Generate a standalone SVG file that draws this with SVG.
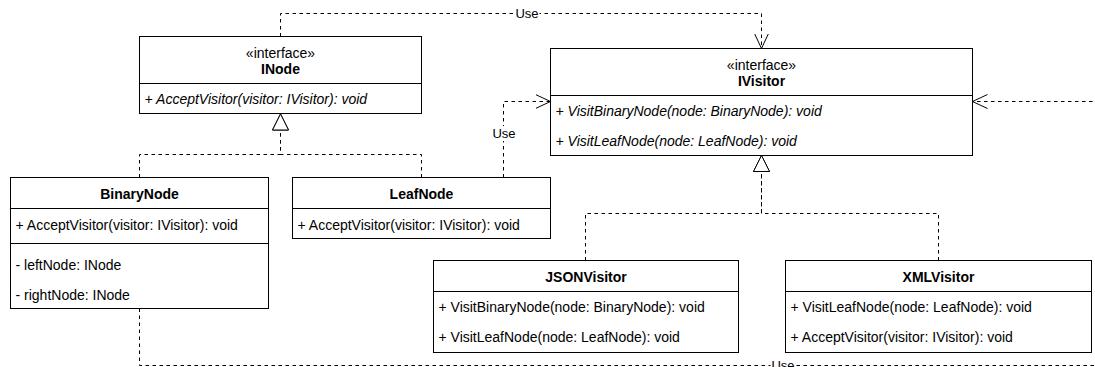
<svg xmlns="http://www.w3.org/2000/svg" width="1095" height="367" viewBox="0 0 1095 367">
  <style>
    .box { fill: #ffffff; stroke: #000000; stroke-width: 1; }
    .sep { stroke: #000000; stroke-width: 1; fill: none; }
    .t { font-family: "Liberation Sans", Arial, Helvetica, sans-serif; font-size: 14px; fill: #000000; }
    .c { text-anchor: middle; }
    .b { font-weight: bold; }
    .i { font-style: italic; }
    .edge { fill: none; stroke: #000000; stroke-width: 1; stroke-dasharray: 3.5 3.5; }
    .lbl { font-family: "Liberation Sans", Arial, Helvetica, sans-serif; font-size: 13px; fill: #000000; text-anchor: middle; }
    .lblbg { fill: #ffffff; stroke: none; }
  </style>
  <defs>
    <marker id="open" markerUnits="userSpaceOnUse" markerWidth="16" markerHeight="16" viewBox="0 0 16 16" refX="15" refY="8" orient="auto">
      <path d="M0,1 L15,8 L0,15" fill="none" stroke="#000000" stroke-width="1" stroke-dasharray="none"/>
    </marker>
    <marker id="tri" markerUnits="userSpaceOnUse" markerWidth="18" markerHeight="18" viewBox="0 0 18 18" refX="17" refY="9" orient="auto">
      <path d="M1,1 L17,9 L1,17 Z" fill="#ffffff" stroke="#000000" stroke-width="1" stroke-dasharray="none"/>
    </marker>
  </defs>

  <!-- connectors -->
  <g id="connectors">
    <!-- realization: classes to INode -->
    <path class="edge" d="M139.5,177.5 V154.5 H280.5 V114" marker-end="url(#tri)"/>
    <path class="edge" d="M421.5,177.5 V154.5 H280.5 V114" marker-end="url(#tri)"/>
    <!-- realization: visitors to IVisitor -->
    <path class="edge" d="M585.5,260.5 V213.5 H761.5 V155.5" marker-end="url(#tri)"/>
    <path class="edge" d="M938.5,260.5 V213.5 H761.5 V155.5" marker-end="url(#tri)"/>
    <!-- dependencies -->
    <path class="edge" d="M280.5,36.5 V13.5 H761.5 V48.5" marker-end="url(#open)"/>
    <path class="edge" d="M503.5,177.5 V101.5 H550.5" marker-end="url(#open)"/>
    <path class="edge" d="M139.5,308.5 V365.5 H1110 V101.5 H972.5" marker-end="url(#open)"/>
    <!-- labels -->
    <rect class="lblbg" x="514.5" y="6" width="25" height="15"/>
    <text class="lbl" x="527" y="18">Use</text>
    <rect class="lblbg" x="491.5" y="126" width="25" height="15"/>
    <text class="lbl" x="504" y="138">Use</text>
    <rect class="lblbg" x="770.5" y="358" width="25" height="15"/>
    <text class="lbl" x="783" y="370">Use</text>
  </g>

  <!-- INode -->
  <g id="INode">
    <rect class="box" x="139.5" y="36.5" width="282" height="77"/>
    <line class="sep" x1="139.5" y1="83.5" x2="421.5" y2="83.5"/>
    <text class="t c" x="280.5" y="57.5">«interface»</text>
    <text class="t c b" x="280.5" y="74">INode</text>
    <text class="t i" x="144.5" y="104">+ AcceptVisitor(visitor: IVisitor): void</text>
  </g>

  <!-- IVisitor -->
  <g id="IVisitor">
    <rect class="box" x="550.5" y="48.5" width="422" height="107"/>
    <line class="sep" x1="550.5" y1="95.5" x2="972.5" y2="95.5"/>
    <text class="t c" x="761.5" y="70">«interface»</text>
    <text class="t c b" x="761.5" y="86">IVisitor</text>
    <text class="t i" x="555.5" y="116">+ VisitBinaryNode(node: BinaryNode): void</text>
    <text class="t i" x="555.5" y="145.5">+ VisitLeafNode(node: LeafNode): void</text>
  </g>

  <!-- BinaryNode -->
  <g id="BinaryNode">
    <rect class="box" x="10.5" y="177.5" width="258" height="131"/>
    <line class="sep" x1="10.5" y1="208.5" x2="268.5" y2="208.5"/>
    <line class="sep" x1="10.5" y1="243.5" x2="268.5" y2="243.5"/>
    <text class="t c b" x="139.5" y="199">BinaryNode</text>
    <text class="t" x="15.5" y="230">+ AcceptVisitor(visitor: IVisitor): void</text>
    <text class="t" x="15.5" y="270">- leftNode: INode</text>
    <text class="t" x="15.5" y="300">- rightNode: INode</text>
  </g>

  <!-- LeafNode -->
  <g id="LeafNode">
    <rect class="box" x="292.5" y="177.5" width="258" height="61"/>
    <line class="sep" x1="292.5" y1="208.5" x2="550.5" y2="208.5"/>
    <text class="t c b" x="421.5" y="198.5">LeafNode</text>
    <text class="t" x="297.5" y="230">+ AcceptVisitor(visitor: IVisitor): void</text>
  </g>

  <!-- JSONVisitor -->
  <g id="JSONVisitor">
    <rect class="box" x="433.5" y="260.5" width="305" height="92"/>
    <line class="sep" x1="433.5" y1="291.5" x2="738.5" y2="291.5"/>
    <text class="t c b" x="586" y="281.5">JSONVisitor</text>
    <text class="t" x="438.5" y="311.5">+ VisitBinaryNode(node: BinaryNode): void</text>
    <text class="t" x="438.5" y="341.5">+ VisitLeafNode(node: LeafNode): void</text>
  </g>

  <!-- XMLVisitor -->
  <g id="XMLVisitor">
    <rect class="box" x="785.5" y="260.5" width="306" height="92"/>
    <line class="sep" x1="785.5" y1="291.5" x2="1091.5" y2="291.5"/>
    <text class="t c b" x="938.5" y="281.5">XMLVisitor</text>
    <text class="t" x="790.5" y="311.5">+ VisitLeafNode(node: LeafNode): void</text>
    <text class="t" x="790.5" y="341.5">+ AcceptVisitor(visitor: IVisitor): void</text>
  </g>
</svg>
